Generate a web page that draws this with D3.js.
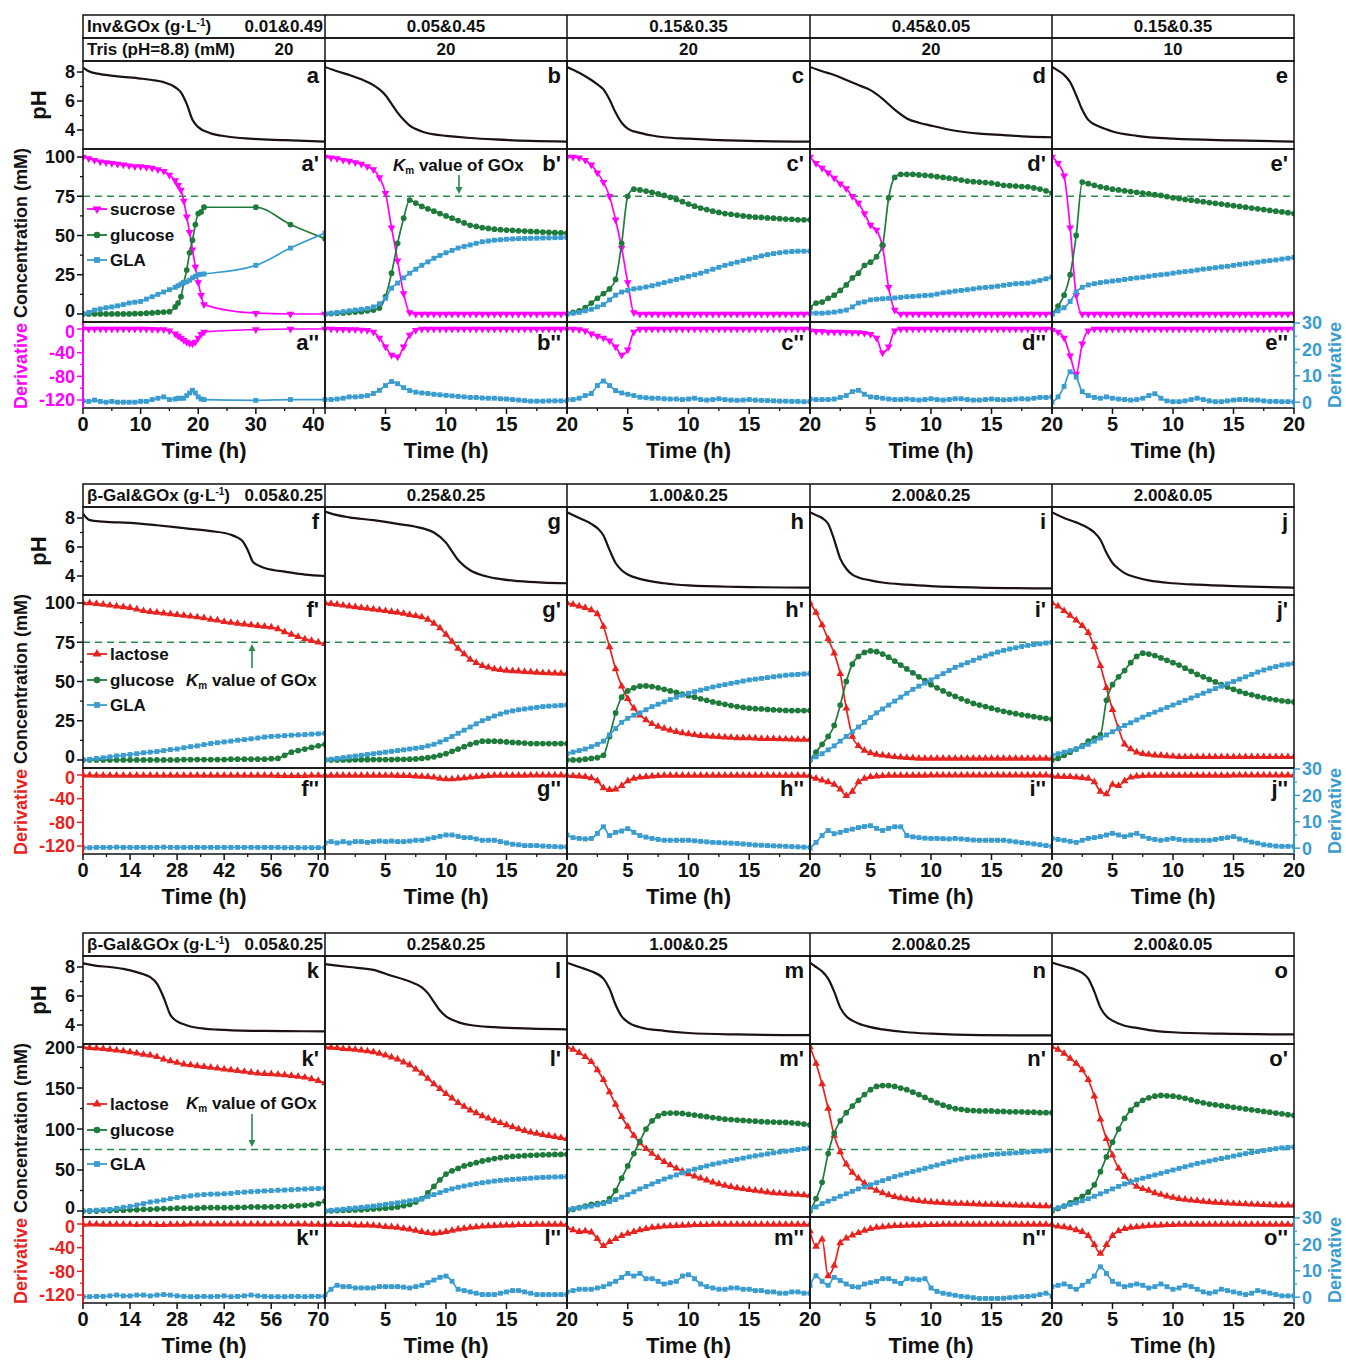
<!DOCTYPE html>
<html><head><meta charset="utf-8">
<script src="https://cdn.jsdelivr.net/npm/d3@7"></script>
<style>
body{margin:0;background:#fff;}
text{font-family:Arial,"Liberation Sans",Helvetica,sans-serif;}
</style></head><body>
<script>
// ================= DATA =================
// sample times (h)
const t20 = d3.range(0, 20.001, 0.5);
const t72 = d3.range(0, 72.001, 2);
const tA = [0,1,2,3,4,5,6,7,8,9,10,11,12,13,14,15,16,16.5,17,17.5,18,18.5,19,19.5,20,20.5,21,30,36,42];

// ---- Block 1 : Inv&GOx, sucrose ----
const headInv = ["0.01&0.49","0.05&0.45","0.15&0.35","0.45&0.05","0.15&0.35"];
const headTris = ["20","20","20","20","10"];

const phA = [[0,8.3],[1,8.05],[3,7.85],[6,7.7],[10,7.55],[12,7.45],[14,7.3],[16,6.95],[17,6.6],[18,5.8],[19,4.7],[20,4.2],[22,3.8],[25,3.55],[29,3.4],[35,3.3],[42,3.2]];
const sucA = [100,99,98,97,96.5,96,95.5,95,94.5,94, 94,93.5,93,92,91,88.5,85, 82,79,72,62,52,41,30,20,12,6, 0.5,0,0];
const gluA = [0,0,0,0,0,0,0,0,0,0.2, 0.3,0.5,0.7,1,1.2,1.5,4.5, 7,11,20,28,39,47,57,64,65,68, 68,57,48];
const glaA = [0,1,2.5,3.2,4,4.5,5.2,6,7,7.5, 8,9.5,11,12.5,14,15.5,17, 18,19,20,20.5,21.5,23,24,25,25.3,25.5, 31,42,51.5];
const dSucA = [0,0,0,0,0,0,0,0,0,0, 0,0,-0.5,-1,-1,-3,-8, -12,-15,-19,-22,-24,-25,-22,-15,-9,-5, -1,0,0];
const dGlaA = [0.5,0.3,0.8,0.3,0,0.3,0,0,0,0, 0.3,0.3,1,1.5,2,1,1.2, 1.5,1.5,1.5,2.5,3.5,4.5,3.5,2,1.2,1, 0.7,1,1];

const phB = [[0,8.35],[1,8.05],[2,7.8],[3,7.5],[4,7.1],[4.5,6.8],[5,6.4],[5.5,5.8],[6,5.2],[6.5,4.7],[7,4.3],[8,3.9],[9,3.7],[10,3.6],[12,3.45],[14,3.35],[17,3.25],[20,3.2]];
const sucB = [100,99.5,99,98,97.5,96.5,95.5,94,92,87, 77,55,34,13,1,0,0,0,0,0, 0,0,0,0,0,0,0,0,0,0, 0,0,0,0,0,0,0,0,0,0, 0];
const gluB = [0,0.3,0.5,0.7,1,1.2,1.5,2,2.5,3.8, 11,26,45,61,72.6,70.7,68.5,67,65.5,64, 62.5,61,59.5,58,56.5,55.8,55,54.5,54,53.7, 53.5,53.3,53,52.8,52.6,52.4,52.2,52,51.8,51.7, 51.5];
const glaB = [0,0.5,1,1.5,2,2.5,3,3.5,4.5,6.5, 10,16.5,19.7,23,26,28.5,31,33.2,35.5,37.3, 39,40.5,42,43,44,45,46,46.5,47,47.3, 47.6,47.8,48,48.1,48.2,48.3,48.4,48.5,48.6,48.7, 48.8];
const dSucB = [0,0,-0.5,-0.5,-1,-1,-1.5,-2,-5,-15, -30,-44,-47,-30,-10,-2,0,0,0,0, 0,0,0,0,0,0,0,0,0,0, 0,0,0,0,0,0,0,0,0,0, 0];
const dGlaB = [1,1,1.2,1.5,2,2,2.2,2.5,3.3,4.5, 6.3,7.8,7,5.5,4.4,3.8,3.5,3.3,3,2.8, 2.6,2.4,2.2,2,1.8,1.8,1.6,1.5,1.5,1.3, 1.2,1,0.8,0.6,0.4,0.4,0.4,0.5,0.5,0.5, 0.5];

const phC = [[0,8.35],[1,7.95],[2,7.45],[2.5,7.15],[3,6.8],[3.5,6.1],[4,5.2],[4.5,4.5],[5,4.1],[6,3.8],[7,3.62],[8,3.5],[10,3.4],[12,3.32],[15,3.25],[20,3.2]];
const sucC = [100,100,99.5,98,95,90,84,75,60,42, 20,1,0,0,0,0,0,0,0,0, 0,0,0,0,0,0,0,0,0,0, 0,0,0,0,0,0,0,0,0,0, 0];
const gluC = [0,1,2,4,7,10,13,16,22,45, 75,79.5,79,78.3,77.5,76.5,75.5,74.3,73,71.5, 70,68.7,67.5,66.5,65.5,64.7,64,63.5,63,62.5, 62,61.7,61.5,61.2,61,60.7,60.5,60.3,60,60, 60];
const glaC = [0,0.5,1,2,3,4.5,6,9,12,14, 15,16,16.5,17.2,18,19,20,21,22,23, 24,25,26,27.2,28.5,29.7,31,32,33,34, 35,36,37,37.8,38.5,39,39.5,39.8,40,40, 40];
const dSucC = [0,0,-1,-3,-8,-12,-15,-20,-30,-44, -35,-5,0,0,0,0,0,0,0,0, 0,0,0,0,0,0,0,0,0,0, 0,0,0,0,0,0,0,0,0,0, 0];
const dGlaC = [1,1,1.5,2.5,3.3,6.3,8,6.3,4.4,3.5, 3,2.5,1.9,1.7,1.5,1.5,1.3,1.2,1.2,1, 1.2,1.5,1,0.8,1,1.3,1,0.8,0.7,0.8, 1,0.8,0.7,0.6,0.5,0.4,0.4,0.3,0.3,0.2, 0.2];

const phD = [[0,8.35],[1,8.05],[2,7.8],[3,7.45],[4,7.1],[5,6.75],[6,6.15],[7,5.4],[8,4.8],[9,4.5],[10,4.3],[12,3.95],[14,3.75],[16,3.65],[18,3.55],[20,3.5]];
const sucD = [100,96,93,90,86.6,83,80,75,70.7,64, 56.7,53.5,42.7,17,2.5,0,0,0,0,0, 0,0,0,0,0,0,0,0,0,0, 0,0,0,0,0,0,0,0,0,0, 0];
const gluD = [4,7,7.6,10,12,15,18.5,23,26,31, 33,36.5,44,74,87,89,89,89,88.6,88.3, 88,87.5,87,86.5,86,85.3,84.7,84.3,84,83.7, 83.4,82.7,82,81.7,81.5,81.2,81,80.3,79.6,78.5, 77];
const glaD = [0.5,0.5,0.5,0.8,1.2,1.8,2.5,4.5,7,7.7, 9,9.4,9.7,10,10.2,10.6,11,11.2,11.5,11.8, 12,12.7,13.5,14,14.6,15,15.5,16,16.6,16.9, 17.2,17.7,18.3,18.8,19.3,19.5,19.7,20.5,21.4,22.4, 23.5];
const dSucD = [-3,-4,-4,-5,-5,-5,-5.5,-6,-6,-7, -9,-15,-40,-30,-3,0,0,0,0,0, 0,0,0,0,0,0,0,0,0,0, 0,0,0,0,0,0,0,0,0,0, 0];
const dGlaD = [1.2,1,1,1,1.2,1.8,2.5,4,4.5,3, 2,1.8,1.5,1.2,1,1,1.2,1,0.8,1, 1.3,1,0.8,1,1.3,1.3,1,0.8,0.8,1, 1.2,1,0.9,1,1.2,1.3,1.2,1.5,1.8,1.8, 2];

const phE = [[0,8.35],[0.5,8.1],[1,7.8],[1.5,7.3],[2,6.4],[2.5,5.4],[3,4.7],[4,4.2],[5,3.9],[7,3.6],[10,3.4],[15,3.28],[20,3.2]];
const sucE = [100,96,88,55,12,0,0,0,0,0, 0,0,0,0,0,0,0,0,0,0, 0,0,0,0,0,0,0,0,0,0, 0,0,0,0,0,0,0,0,0,0, 0];
const gluE = [0,5,12,25,50,84,83,82,81,80.3, 79.5,79,78.5,78,77.5,77,76.5,76,75.5,74.8, 74,73.5,73,72.5,72,71.5,71,70.5,70,69.5, 69,68.5,68,67.5,67,66.5,66,65.5,65,64.5, 64];
const glaE = [0,2,4,8,14,17,18.5,19.3,20,20.5, 21,21.4,22,22.6,23,23.4,24,24.6,25,25.4, 26,26.6,27,27.4,28,28.6,29,29.5,30,30.4, 31,31.6,32,32.5,33,33.6,34,34.4,35,35.5, 36];
const dSucE = [-2,-5,-15,-45,-76,-25,-3,0,0,0, 0,0,0,0,0,0,0,0,0,0, 0,0,0,0,0,0,0,0,0,0, 0,0,0,0,0,0,0,0,0,0, 0];
const dGlaE = [0,2,6,11.5,9.5,4,2.5,1.8,1.5,2, 1.5,1.2,1,0.8,1,1.5,2.5,3.2,1.5,0.5, 0.2,0.2,0.5,1,1.5,1,0.5,0.2,0.2,0.5, 0.8,1,1,0.8,0.8,0.5,0.3,0.3,0.2,0.2, 0.1];

// ---- Block 2 : beta-Gal&GOx, 100 mM lactose ----
const headGal = ["0.05&0.25","0.25&0.25","1.00&0.25","2.00&0.25","2.00&0.05"];

const phF = [[0,8.3],[2,7.85],[6,7.75],[15,7.65],[22,7.5],[30,7.3],[38,7.1],[44,6.85],[46,6.65],[47.5,6.4],[49,5.8],[50.5,5.0],[52,4.75],[54,4.55],[57,4.4],[60,4.3],[66,4.1],[72,4.0]];
const lacF = [100,100,99.5,99,98.5,98,97.5,97,96,95, 94.5,94,93.5,93,92.5,92,91.5,91,90.5,89.5, 89,88,87.5,87,86.5,86,85.5,85,84.5,83.5, 81.5,80,78.5,77,76,75,74];
const gluF = [0,0,0,0,0,0,0,0,0,0, 0,0,0,0,0,0.3,0.3,0.3,0.3,0.3, 0.3,0.3,0.5,0.5,0.5,0.5,0.5,0.5,0.8,1, 3,5,6,7,8,9,10];
const glaF = [0,0.4,1,1.4,2,2.6,3,3.5,4,4.6, 5,5.4,6,6.6,7,7.8,8.5,9,9.8,10.5, 11,11.5,12,12.6,13,13.5,14,14.6,15,15.2, 15.5,15.8,16,16.2,16.5,16.7,17];
const dLacF = [-0.5,-0.5,-0.8,-0.8,-1,-1,-1,-1,-1,-1, -1,-1,-1,-1,-1,-1,-1,-1,-1,-1, -1,-1,-1,-1,-1,-1,-1,-1,-1,-1.2, -1.5,-1.5,-1.5,-1.2,-1,-1,-1];
const dGlaF = [0.2,0.2,0.3,0.3,0.3,0.4,0.3,0.3,0.3,0.3, 0.3,0.3,0.4,0.3,0.3,0.3,0.3,0.3,0.3,0.3, 0.3,0.3,0.3,0.3,0.3,0.3,0.3,0.3,0.3,0.3, 0.2,0.2,0.2,0.2,0.2,0.2,0.2];

const phG = [[0,8.45],[1,8.2],[2,8.05],[4,7.85],[6,7.6],[8,7.3],[9,7.0],[10,6.3],[10.5,5.7],[11,5.1],[11.5,4.7],[12,4.4],[13,4.05],[14,3.85],[16,3.65],[18,3.55],[20,3.5]];
const lacG = [100,99.5,99,98.5,98,97.5,97,96.5,96,95.5, 95,94.5,94,93.3,92.5,91.8,91,89.5,87,84, 80,75.5,71,67.5,64,62,60,59,58,57.5, 57,56.7,56.5,56.2,56,55.8,55.5,55.4,55.3,55.1, 55];
const gluG = [0,0,0,0,0,0.2,0.2,0.2,0.3,0.3, 0.3,0.3,0.4,0.4,0.5,0.7,1,1.5,2,3, 4,5.5,7,8.5,10,11,12,12,12,11.8, 11.5,11.2,11,10.8,10.5,10.5,10.5,10.5,10.5,10.5, 10.5];
const glaG = [0,0.5,1,1.5,2,2.5,3,3.5,4,4.5, 5,5.5,6,6.5,7,7.5,8,9,10,11.5, 13,15,17,19,21,23,25,26.5,28,29.3, 30.5,31.3,32,32.5,33,33.5,34,34.3,34.5,34.8, 35];
const dLacG = [-1,-1,-1,-1,-1,-1,-1,-1,-1,-1, -1,-1,-1.2,-1.3,-1.5,-2,-2.5,-3,-4,-6, -7,-7,-6,-5,-4,-3,-2,-1.5,-1,-1, -1,-0.8,-0.8,-0.8,-0.6,-0.6,-0.5,-0.5,-0.5,-0.5, -0.5];
const dGlaG = [2,2.5,2,2.5,2,2.5,2.5,2.2,2.5,2.7, 2.5,2.7,2.5,2.5,2.7,3,3,3.5,4,4.5, 5,5,4.5,4,4,3.5,3,3,3,2.5, 2,1.5,1.3,1,1,1,0.8,0.7,0.6,0.5, 0.5];

const phH = [[0,8.4],[1,8.0],[2,7.6],[2.5,7.3],[3,6.8],[3.5,5.8],[4,4.9],[4.5,4.4],[5,4.1],[6,3.8],[8,3.5],[10,3.35],[14,3.25],[20,3.2]];
const lacH = [100,99,98,97,95.5,93,85,72,58,47, 39,33,28.5,25.5,23,21.3,20,19,18,17.2, 16.5,16,15.5,15.2,15,14.8,14.5,14.3,14,14, 14,13.8,13.5,13.5,13.5,13.4,13.3,13.2,13,13, 13];
const gluH = [0,0,0,0.5,1,1.5,3,15,30,40, 44,46,47,47.2,46.8,46,45,44,43,42, 41,40,39,38,37,36.2,35.5,34.7,34,33.5, 33,32.7,32.5,32.2,32,31.8,31.6,31.5,31.5,31.5, 31.5];
const glaH = [4,5,6,7,8.5,10,12,16,20,24, 26.5,28.5,30,32,34,35.5,37,38.5,40,41.3, 42.5,43.5,44.5,45.5,46.5,47.3,48,48.8,49.5,50.3, 51,51.5,52,52.5,53,53.5,54,54.3,54.5,54.8, 55];
const dLacH = [-1,-1.5,-2,-3,-5,-10,-22,-25,-24,-18, -10,-6,-4,-3,-2,-1.5,-1,-1,-1,-1, -1,-1,-1,-1,-1,-1,-1,-1,-1,-1, -1,-1,-1,-1,-1,-1,-1,-1,-1,-1, -1];
const dGlaH = [5,4,3.7,3.5,3.7,5.6,8.1,4.8,6,6.5, 7.4,6,4.8,4.2,3.7,3.3,3,3,3,3, 3,2.8,2.6,2.4,2.2,2.1,2,1.9,1.8,1.6, 1.4,1.2,1.1,1,0.9,0.8,0.7,0.6,0.5,0.4, 0.3];

const phI = [[0,8.4],[0.5,8.2],[1,8.0],[1.5,7.6],[2,6.5],[2.5,5.2],[3,4.5],[3.5,4.1],[4,3.9],[5,3.7],[6,3.55],[8,3.4],[10,3.3],[14,3.2],[20,3.15]];
const lacI = [100,94,86,77,68,55,33,15,9,6, 4.5,3.5,3,2.5,2,1.8,1.5,1.3,1,1, 1,1,1,1,1,1,1,1,1,1, 1,1,1,1,1,1,1,1,1,1, 1];
const gluI = [0,5,10,15,22,35,50,61,66,68.5, 69.5,69,67.5,65.5,63,60.5,58,55.5,53,50.5, 48,46,44,42,40.5,39,37.5,36,35,34, 33,32,31,30.2,29.5,28.8,28.2,27.6,27,26.5, 26];
const glaI = [0,2,4,6.5,9,12,15,18,21,24, 27,30,32.5,35,37.5,40,42.5,45,47,49, 51,53,55,57,59,60.5,62,63.5,65,66.3, 67.5,68.7,69.8,70.7,71.5,72.3,73,73.5,74,74.5, 75];
const dLacI = [-3,-6,-9,-12,-16,-24,-35,-28,-12,-6, -3,-2,-1.5,-1,-1,-1,-0.8,-0.8,-0.8,-0.8, -0.5,-0.5,-0.5,-0.5,-0.5,-0.5,-0.5,-0.5,-0.5,-0.5, -0.5,-0.5,-0.5,-0.5,-0.5,-0.5,-0.5,-0.5,-0.5,-0.5, -0.5];
const dGlaI = [0,2.2,4.8,6.7,5.5,6,6.7,7.2,7.8,8.2, 8.5,7.5,6.7,7.5,8.1,8.1,4.8,4.3,4,3.8, 3.7,3.7,3.6,3.5,3.7,3.5,3.3,3.1,3,3, 3,3,3,2.7,2.4,2.1,1.9,1.6,1.3,1, 0.7];

const phJ = [[0,8.4],[1,8.0],[2,7.7],[3,7.3],[3.5,7.0],[4,6.5],[4.5,5.6],[5,4.9],[5.5,4.5],[6,4.2],[7,3.9],[8,3.7],[10,3.5],[12,3.4],[15,3.3],[20,3.2]];
const lacJ = [100,98,95,92,89,85.5,81,72,60,46, 32,20,10,7,5,4,3.5,3,2.8,2.5, 2.3,2,2,2,2,2,2,2,2,2, 2,2,2,2,2,2,2,2,2,2, 2];
const gluJ = [0,1,3,5,7,9,12,14,16,38, 48,53,57,62,66,68,67.5,66.5,65,63.5, 62,60.5,58.5,56.5,54.5,53,51.3,49.7,48,46.5, 45,43.7,42.5,41.5,40.5,39.7,39,38.3,37.7,37.3, 37];
const glaJ = [3,4,5,6,7,8.5,10,12,14,16, 18,20,22,23.7,25.5,27.3,29,30.5,32,33.5, 35,36.5,38,39.5,41,42.5,44,45.5,47,48.5, 50,51.5,53,54.5,56,57.3,58.5,59.5,60.5,61, 61.5];
const dLacJ = [-2,-2.5,-3,-3,-4,-4.5,-6,-12,-28,-32, -16,-18,-10,-4,-2,-1.5,-1,-1,-1,-1, -1,-0.8,-0.8,-0.8,-0.8,-0.8,-0.8,-0.8,-0.8,-0.8, -0.6,-0.6,-0.6,-0.6,-0.6,-0.6,-0.6,-0.6,-0.6,-0.6, -0.6];
const dGlaJ = [3.7,3.3,3,2.6,2.2,3,3.7,4,4.4,5, 5.6,5,4.4,5,5.6,4.5,3.7,3.3,3,3.3, 3.7,3.3,3,3,3,3,3,3.3,3.7,4, 4.4,3.5,3,2.3,1.9,1.3,1.1,0.8,0.7,0.7, 0.7];

// ---- Block 3 : beta-Gal&GOx, 200 mM lactose ----
const phK = [[0,8.25],[4,8.08],[8,8.0],[12,7.87],[16,7.65],[18,7.5],[20,7.3],[22,6.85],[24,5.9],[26,4.7],[28,4.25],[30,4.05],[32,3.9],[36,3.75],[40,3.68],[50,3.6],[60,3.58],[72,3.56]];
const lacK = [200,199,198.5,198,197,196,195,194,192.5,191, 190,188,185,183,181,179,178,177,176,175, 174,173,172,171,170,169,168,167.5,167,166.5, 166,165,164,163,161,159,156];
const gluK = [0,0,0,0.5,0.5,1,1,1.5,1.5,2, 2,2.5,3,3,3.5,3.5,3.5,3.5,4,4, 4,4,4,4.5,4.5,5,5,5,5,5.5, 5.5,6,6.5,7,7.5,9,12];
const glaK = [0,0.5,1,1.5,2,3.3,4.5,5.5,7.3,9, 11,12,13.4,15,16.5,17.5,18.5,19.5,20,20.5, 20.7,21,21.5,22.5,23,23.6,24,24.5,24.8,25.3, 25.6,26,26.5,26.8,27.2,27.4,27.6];
const dLacK = [-1,-0.5,-0.5,-1,-1,-1,-1,-1,-1.5,-1, -1,-1.5,-1.5,-1,-1,-1,-0.5,-0.5,-0.5,-0.5, -0.5,-0.5,-0.5,-0.5,-0.5,-0.5,-0.5,-0.5,-0.5,-0.5, -0.5,-0.5,-0.5,-0.5,-1,-1,-1.5];
const dGlaK = [0.2,0.2,0.3,0.3,0.5,0.8,0.5,0.5,0.8,0.8, 0.5,0.8,1,0.8,0.5,0.3,0.2,0.2,0.3,0.2, 0.3,0.5,0.2,0.3,0.5,0.8,0.5,0.3,0.2,0.2, 0.2,0.3,0.3,0.2,0.3,0.3,0.3];

const phL = [[0,8.2],[2,8.0],[4,7.8],[5.5,7.4],[7,7.0],[8,6.6],[8.5,6.2],[9,5.6],[9.5,5.0],[10,4.6],[11,4.2],[12,4.0],[14,3.85],[17,3.75],[20,3.7]];
const lacL = [200,199.5,199,198,197.5,197,196,195,194,192, 190,187.5,185,181.5,178,173,168,161.5,155,149, 143,137.5,132,127.5,123,119.5,116,113,110,107.5, 105,102.5,100,98,96,94.5,93,91.7,90.5,89.2, 88];
const gluL = [0,0.3,0.5,0.8,1,1.3,1.5,2,2.5,3, 3.5,4,5,6.5,8,11,15,22,30,38, 45,49,52,55,57,59,61,62.5,64,65, 66,66.5,67,67.5,68,68.3,68.5,68.7,69,69, 69];
const glaL = [0,0.8,1.5,2.2,3,3.7,4.5,5.2,6,7, 8,9,10,11.2,12.5,13.7,15,17.5,20,22.5, 25,27,29,30.5,32,33.3,34.5,35.5,36.5,37.3, 38,38.5,39,39.5,40,40.5,41,41.3,41.5,41.7, 42];
const dLacL = [-1,-1,-1.5,-1.5,-1.5,-2,-2,-2,-2.5,-3.5, -4.5,-5,-6,-7.5,-9,-11,-13,-15,-16,-15, -13,-11,-9,-7.5,-6,-5,-4,-3.5,-3,-2.5, -2,-2,-1.5,-1.5,-1.5,-1,-1,-1,-1,-1, -1];
const dGlaL = [1,3,4.5,4,4,3.5,3.5,3.5,3.5,4, 4,4,4,3.8,3.5,4,4.5,5.5,6.5,7.5, 8,6,3,2.5,2,1.5,1,1,1,1.5, 2,2.5,2.5,2,1.5,1,1,1,1,1, 1];

const phM = [[0,8.3],[1,8.0],[2,7.7],[3,7.2],[3.5,6.5],[4,5.4],[4.5,4.6],[5,4.2],[6,3.85],[8,3.6],[10,3.45],[14,3.35],[20,3.3]];
const lacM = [200,197,193,188,182,172,160,145,130,115, 103,92,83,76,70,65,60,56,52,48.5, 45,42.5,40,37.5,35,33,31,29.5,28,27, 26,25,24,23,22,21.5,21,20.5,20,19.5, 19];
const gluM = [0,2,4,6,8,9,10,15,25,40, 55,70,85,100,110,116,119,119.5,119.5,119, 118,117,116,115,114,113,112,111.5,111,110.5, 110,109.5,109,108.7,108.5,108.2,108,107.5,107,106, 105];
const glaM = [2,3,4,5,6,7.5,9,11.5,14,17, 20,23.5,27,30,33,36,39,41.5,44,46.5, 49,51,53,55,57,58.5,60,61.5,63,64.5, 66,67.3,68.5,69.7,71,72,73,74,75,76, 77];
const dLacM = [-6,-10,-13,-12,-14,-25,-37,-30,-25,-20, -16,-13,-10,-8,-6,-5,-4,-3.5,-3,-2.5, -2,-1.5,-1.5,-1.5,-1,-1,-1,-1,-1,-1, -1,-1,-1,-1,-1,-1,-1,-1,-1,-1, -1];
const dGlaM = [2,2.5,3,3,3,3.5,4,5,6,7.5, 9,8,9,7,7,6,5,5.5,6,8, 8.5,7,5,4,3.5,3,3,3.5,3.5,3, 3,2.5,2.5,2,2,1.5,1.5,2,2,1.5, 1.5];

const phN = [[0,8.3],[0.5,8.0],[1,7.7],[1.5,7.2],[2,6.3],[2.5,5.2],[3,4.6],[3.5,4.3],[4,4.1],[5,3.85],[6,3.7],[8,3.5],[10,3.4],[14,3.3],[20,3.28]];
const lacN = [200,180,155,125,92,72,57,47,40,34, 29,25,22,19.5,17.5,16,14.5,13.5,12.5,11.5, 11,10.5,10,9.5,9.2,9,8.7,8.5,8.2,8, 7.8,7.6,7.4,7.2,7,6.8,6.6,6.4,6.2,6, 6];
const gluN = [0,15,35,70,95,110,120,128,135,142, 148,152,153,153,152,150,148,145,142,138.5, 135,132,129,127,125,124,123,122.5,122,122, 122,121.5,121.5,121,121,121,120.5,120.5,120,120, 120];
const glaN = [2,5,9,12,15,18,21,24,27,29.5, 32,34.5,37,39.5,42,44,46,48,50,52, 54,56,58,60,62,63.5,65,66,67,68, 69,69.5,70,70.5,71,71.5,72,72.5,73,73.5, 74];
const dLacN = [-12,-38,-26,-88,-70,-32,-24,-19,-15,-11, -8,-6,-5,-4,-3,-3,-2.5,-2,-2,-1.5, -1.5,-1.5,-1,-1,-1,-1,-1,-1,-1,-1, -1,-1,-1,-1,-1,-1,-1,-1,-1,-1, -1];
const dGlaN = [4.4,8.1,6,4.5,7.5,6.3,5,4,3.8,5, 5.5,6,7,7,6,5.2,7,6.8,6.6,7, 3.5,2.2,1.5,1.1,0.7,0.3,0.1,-0.2,-0.5,-0.5, -0.5,-0.5,-0.4,-0.2,0,0.2,0.3,0.5,1,1.5, 0.4];

const phO = [[0,8.3],[1,8.05],[2,7.8],[2.5,7.6],[3,7.2],[3.5,6.3],[4,5.2],[4.5,4.6],[5,4.3],[6,3.95],[7,3.8],[8,3.65],[10,3.5],[14,3.4],[20,3.35]];
const lacO = [200,197,192,186,180,172,160,140,112,88, 68,52,42,35,30,27,25,22,20,18, 16.5,15,14,13,12.5,11.5,11,10.5,10,9.5, 9,8.7,8.4,8.1,7.8,7.5,7.3,7.1,7,7, 7];
const gluO = [0,3,6,10,14,18,23,32,48,66, 84,100,113,123,130,135,138,140,141,140.5, 140,139,137.5,135.5,133.5,132,130.5,129.5,128.5,127.5, 126.5,125.5,124.5,123.5,122.5,121.5,120.5,119.5,118.5,117.5, 116.5];
const glaO = [2,4,6,8,10,12.5,15,18,21,24, 27,30,33,35.5,38,40,42,44,46,48, 50,52,54,56,58,59.5,61,62.5,64,65.5, 67,68.5,70,71.3,72.5,73.7,75,76,77,77.5, 78];
const dLacO = [-2,-4,-5,-7,-10,-13,-20,-35,-50,-35, -20,-12,-8,-6,-5,-4,-3,-2.5,-2,-1.5, -1.5,-1,-1,-1,-1,-1,-1,-1,-1,-1, -1,-1,-1,-1,-1,-1,-1,-1,-1,-1, -1];
const dGlaO = [4,4.5,5,4,3,4.5,6,8,11.5,9, 6,5,4,4.5,5,4.5,3.5,4,5,4, 3,3.5,4.5,4,3,2,1.5,2,3,2.5, 2,1.5,1,1.5,2.5,2,1.5,1,0.5,0.5, 0.5];

// tick values
const phTicks = [4,6,8], phMinor = [5,7];
const concTicks100 = [0,25,50,75,100], concMinor100 = [12.5,37.5,62.5,87.5];
const concTicks200 = [0,50,100,150,200], concMinor200 = [25,75,125,175];
const derTicksL = [0,-40,-80,-120], derMinorL = [-20,-60,-100];
const derTicksR = [0,10,20,30], derMinorR = [5,15,25];
const KM = 75;

// ================= STYLE / LAYOUT =================
const COL = {suc:'#ff00ff', lac:'#e8231f', glu:'#1e7b3b', gla:'#3a9ccf', ph:'#1c1212', km:'#2b8a4c'};
const SYM = {
  suc:{type:d3.symbolTriangle, rot:180, size:26},
  lac:{type:d3.symbolTriangle, rot:0, size:26},
  glu:{type:d3.symbolCircle, rot:0, size:26},
  gla:{type:d3.symbolSquare, rot:0, size:24}
};
const COL_X = [83, 325, 567, 810, 1052, 1294];
const PH_H = 88, CONC_H = 173, DER_H = 86, HEAD_H = 23;
const TICK_FONT = 18;

function mk(t, xMax, ph, conc, der){ return {t, xMax, ph, conc, der}; }

const blocks = [
  { top:61, heads:[{label:['Inv&GOx (g·L','-1',')'], vals:headInv, firstX:323, firstAnchor:'end'},
                   {label:['Tris (pH=8.8) (mM)'], vals:headTris, firstX:284, firstAnchor:'middle'}],
    letters:['a','b','c','d','e'], derColor:COL.suc,
    concDom:[-5.1,105.1], concTicks:concTicks100, concMinor:concMinor100,
    legend:{keys:['suc','glu','gla'], names:['sucrose','glucose','GLA'], dy:[60,86,111]},
    km:{col:1, tx:393, ty:22, ax:459, a0:26, a1:45},
    panels:[
      mk(tA,42,phA,[[sucA,'suc'],[gluA,'glu'],[glaA,'gla']],[[dSucA,'suc'],[dGlaA,'gla']]),
      mk(t20,20,phB,[[sucB,'suc'],[gluB,'glu'],[glaB,'gla']],[[dSucB,'suc'],[dGlaB,'gla']]),
      mk(t20,20,phC,[[sucC,'suc'],[gluC,'glu'],[glaC,'gla']],[[dSucC,'suc'],[dGlaC,'gla']]),
      mk(t20,20,phD,[[sucD,'suc'],[gluD,'glu'],[glaD,'gla']],[[dSucD,'suc'],[dGlaD,'gla']]),
      mk(t20,20,phE,[[sucE,'suc'],[gluE,'glu'],[glaE,'gla']],[[dSucE,'suc'],[dGlaE,'gla']])
    ]},
  { top:507, heads:[{label:['β-Gal&GOx (g·L','-1',')'], vals:headGal, firstX:323, firstAnchor:'end'}],
    letters:['f','g','h','i','j'], derColor:COL.lac,
    concDom:[-5.1,105.1], concTicks:concTicks100, concMinor:concMinor100,
    legend:{keys:['lac','glu','gla'], names:['lactose','glucose','GLA'], dy:[59,85,110]},
    km:{col:0, tx:186, ty:91, ax:252, a0:73, a1:49},
    panels:[
      mk(t72,72,phF,[[lacF,'lac'],[gluF,'glu'],[glaF,'gla']],[[dLacF,'lac'],[dGlaF,'gla']]),
      mk(t20,20,phG,[[lacG,'lac'],[gluG,'glu'],[glaG,'gla']],[[dLacG,'lac'],[dGlaG,'gla']]),
      mk(t20,20,phH,[[lacH,'lac'],[gluH,'glu'],[glaH,'gla']],[[dLacH,'lac'],[dGlaH,'gla']]),
      mk(t20,20,phI,[[lacI,'lac'],[gluI,'glu'],[glaI,'gla']],[[dLacI,'lac'],[dGlaI,'gla']]),
      mk(t20,20,phJ,[[lacJ,'lac'],[gluJ,'glu'],[glaJ,'gla']],[[dLacJ,'lac'],[dGlaJ,'gla']])
    ]},
  { top:956, heads:[{label:['β-Gal&GOx (g·L','-1',')'], vals:headGal, firstX:323, firstAnchor:'end'}],
    letters:['k','l','m','n','o'], derColor:COL.lac,
    concDom:[-7.3,203.7], concTicks:concTicks200, concMinor:concMinor200,
    legend:{keys:['lac','glu','gla'], names:['lactose','glucose','GLA'], dy:[60,86,120]},
    km:{col:0, tx:186, ty:65, ax:252, a0:70, a1:103},
    panels:[
      mk(t72,72,phK,[[lacK,'lac'],[gluK,'glu'],[glaK,'gla']],[[dLacK,'lac'],[dGlaK,'gla']]),
      mk(t20,20,phL,[[lacL,'lac'],[gluL,'glu'],[glaL,'gla']],[[dLacL,'lac'],[dGlaL,'gla']]),
      mk(t20,20,phM,[[lacM,'lac'],[gluM,'glu'],[glaM,'gla']],[[dLacM,'lac'],[dGlaM,'gla']]),
      mk(t20,20,phN,[[lacN,'lac'],[gluN,'glu'],[glaN,'gla']],[[dLacN,'lac'],[dGlaN,'gla']]),
      mk(t20,20,phO,[[lacO,'lac'],[gluO,'glu'],[glaO,'gla']],[[dLacO,'lac'],[dGlaO,'gla']])
    ]}
];

// ================= DRAW =================
const svg = d3.select('body').append('svg').attr('width',1346).attr('height',1367);
svg.append('rect').attr('width',1346).attr('height',1367).attr('fill','#fff');
const defs = svg.append('defs');
let clipId = 0;
function clip(x, y, w, h){
  const id = 'c' + (clipId++);
  defs.append('clipPath').attr('id', id).append('rect').attr('x',x).attr('y',y).attr('width',w).attr('height',h);
  return `url(#${id})`;
}
function series(g, times, vals, x, y, key){
  const pts = times.map((t,i)=>[t, vals[i]]).filter(d=>d[1]!==undefined);
  g.append('path').datum(pts)
    .attr('d', d3.line().x(d=>x(d[0])).y(d=>y(d[1])).curve(d3.curveMonotoneX))
    .attr('fill','none').attr('stroke',COL[key]).attr('stroke-width',1.7);
  const s = SYM[key];
  g.selectAll(null).data(pts).join('path')
    .attr('d', d3.symbol(s.type, s.size)())
    .attr('transform', d=>`translate(${x(d[0])},${y(d[1])}) rotate(${s.rot})`)
    .attr('fill', COL[key]);
}
// shift: optional map value -> pixel offset for a label (to keep adjacent labels apart)
function yAxis(g, scale, xPos, major, minor, dir, color, shift){
  major.forEach(v=>{
    const yy = scale(v);
    const off = (shift && shift[v]) || 0;
    g.append('line').attr('x1',xPos).attr('x2',xPos+dir*6).attr('y1',yy).attr('y2',yy).attr('stroke',color).attr('stroke-width',1.5);
    g.append('text').attr('x',xPos+dir*8).attr('y',yy+off).attr('dy','0.36em')
      .attr('text-anchor',dir<0?'end':'start').attr('font-size',TICK_FONT).attr('font-weight','bold').attr('fill',color).text(v);
  });
  minor.forEach(v=>{
    const yy = scale(v);
    g.append('line').attr('x1',xPos).attr('x2',xPos+dir*3).attr('y1',yy).attr('y2',yy).attr('stroke',color).attr('stroke-width',1.3);
  });
}

blocks.forEach((B, bi)=>{
  const phTop = B.top, concTop = phTop+PH_H, derTop = concTop+CONC_H, derBot = derTop+DER_H;
  const yPH = d3.scaleLinear().domain([2.69, 8.76]).range([concTop, phTop]);
  const yC = d3.scaleLinear().domain(B.concDom).range([derTop, concTop]);
  const yDL = d3.scaleLinear().domain([-133.5, 11.8]).range([derBot, derTop]);
  const yDR = d3.scaleLinear().domain([-2.2, 30.37]).range([derBot, derTop]);
  const G = svg.append('g');

  // header rows
  const headTop = phTop - HEAD_H*B.heads.length;
  B.heads.forEach((h, r)=>{
    const ry = headTop + r*HEAD_H;
    G.append('rect').attr('x',COL_X[0]).attr('y',ry).attr('width',COL_X[5]-COL_X[0]).attr('height',HEAD_H)
      .attr('fill','none').attr('stroke','#111').attr('stroke-width',1.5);
    const lab = G.append('text').attr('x',COL_X[0]+4).attr('y',ry+17).attr('font-size',17).attr('font-weight','bold').attr('fill','#111');
    lab.append('tspan').text(h.label[0]);
    if(h.label.length>1){
      lab.append('tspan').attr('dy',-6).attr('font-size',10).text(h.label[1]);
      lab.append('tspan').attr('dy',6).text(h.label[2]);
    }
    h.vals.forEach((v,c)=>{
      const cx = c===0 ? h.firstX : (COL_X[c]+COL_X[c+1])/2;
      G.append('text').attr('x',cx).attr('y',ry+17).attr('text-anchor',c===0?h.firstAnchor:'middle')
        .attr('font-size',17).attr('font-weight','bold').attr('fill','#111').text(v);
    });
  });
  for(let c=1;c<5;c++){
    G.append('line').attr('x1',COL_X[c]).attr('x2',COL_X[c]).attr('y1',headTop).attr('y2',phTop).attr('stroke','#111').attr('stroke-width',1.5);
  }

  // Km dashed line
  G.append('line').attr('x1',COL_X[0]).attr('x2',COL_X[5]).attr('y1',yC(KM)).attr('y2',yC(KM))
    .attr('stroke',COL.km).attr('stroke-width',1.5).attr('stroke-dasharray','7,5');

  B.panels.forEach((P, c)=>{
    const x0 = COL_X[c], x1 = COL_X[c+1];
    const x = d3.scaleLinear().domain([0, P.xMax]).range([x0, x1]);
    // pH
    const gp = G.append('g').attr('clip-path', clip(x0, phTop, x1-x0, PH_H));
    gp.append('path').datum(P.ph).attr('d', d3.line().x(d=>x(d[0])).y(d=>yPH(d[1])).curve(d3.curveMonotoneX))
      .attr('fill','none').attr('stroke',COL.ph).attr('stroke-width',2.2);
    // concentrations
    const gc = G.append('g').attr('clip-path', clip(x0, concTop, x1-x0, CONC_H));
    P.conc.forEach(([vals,key])=> series(gc, P.t, vals, x, yC, key));
    // derivatives
    const gd = G.append('g').attr('clip-path', clip(x0, derTop, x1-x0, DER_H));
    P.der.forEach(([vals,key])=> series(gd, P.t, vals, x, key==='gla'?yDR:yDL, key));
    // borders
    [[phTop,PH_H],[concTop,CONC_H],[derTop,DER_H]].forEach(([ty,hh])=>{
      G.append('rect').attr('x',x0).attr('y',ty).attr('width',x1-x0).attr('height',hh)
        .attr('fill','none').attr('stroke','#111').attr('stroke-width',1.5);
    });
    // panel letters
    const L = B.letters[c];
    [[L, phTop+22],[L+"'", concTop+22],[L+"''", derTop+28]].forEach(([s,yy])=>{
      G.append('text').attr('x',x1-6).attr('y',yy).attr('text-anchor','end').attr('font-size',22).attr('font-weight','bold').attr('fill','#111').text(s);
    });
    // x axis
    let major, minor, labels;
    if(P.xMax===42){ major=[0,10,20,30,40]; minor=[5,15,25,35]; labels=major; }
    else if(P.xMax===72){ major=[0,14,28,42,56,70]; minor=[7,21,35,49,63]; labels=major; }
    else { major=[0,5,10,15,20]; minor=[2.5,7.5,12.5,17.5]; labels=[5,10,15,20]; }
    major.forEach(v=> G.append('line').attr('x1',x(v)).attr('x2',x(v)).attr('y1',derBot).attr('y2',derBot+6).attr('stroke','#111').attr('stroke-width',1.5));
    minor.forEach(v=> G.append('line').attr('x1',x(v)).attr('x2',x(v)).attr('y1',derBot).attr('y2',derBot+3).attr('stroke','#111').attr('stroke-width',1.3));
    labels.forEach(v=> G.append('text').attr('x',x(v)).attr('y',derBot+23).attr('text-anchor','middle')
      .attr('font-size',20).attr('font-weight','bold').attr('fill','#111').text(v));
    G.append('text').attr('x',(x0+x1)/2).attr('y',derBot+50).attr('text-anchor','middle')
      .attr('font-size',22).attr('font-weight','bold').attr('fill','#111').text('Time (h)');
  });

  // left axes
  yAxis(G, yPH, COL_X[0], phTicks, phMinor, -1, '#111');
  yAxis(G, yC, COL_X[0], B.concTicks, B.concMinor, -1, '#111', {0:-3});
  yAxis(G, yDL, COL_X[0], derTicksL, derMinorL, -1, B.derColor, {0:3});
  G.append('line').attr('x1',COL_X[0]).attr('x2',COL_X[0]).attr('y1',derTop+1).attr('y2',derBot).attr('stroke',B.derColor).attr('stroke-width',1.8);
  // right axis
  yAxis(G, yDR, COL_X[5], derTicksR, derMinorR, 1, COL.gla);
  G.append('line').attr('x1',COL_X[5]).attr('x2',COL_X[5]).attr('y1',derTop+1).attr('y2',derBot).attr('stroke',COL.gla).attr('stroke-width',1.8);

  // axis titles
  G.append('text').attr('transform',`translate(46,${phTop+PH_H/2}) rotate(-90)`).attr('text-anchor','middle')
    .attr('font-size',22).attr('font-weight','bold').attr('fill','#111').text('pH');
  const yt = G.append('text').attr('transform',`translate(27,${(concTop+derBot)/2}) rotate(-90)`).attr('text-anchor','middle')
    .attr('font-size',18).attr('font-weight','bold');
  yt.append('tspan').attr('fill',B.derColor).text('Derivative');
  yt.append('tspan').attr('fill','#111').text(' Concentration (mM)');
  G.append('text').attr('transform',`translate(1341,${derTop+DER_H/2}) rotate(-90)`).attr('text-anchor','middle')
    .attr('font-size',18).attr('font-weight','bold').attr('fill',COL.gla).text('Derivative');

  // legend
  B.legend.keys.forEach((k,i)=>{
    const yy = concTop + B.legend.dy[i];
    G.append('line').attr('x1',87).attr('x2',107).attr('y1',yy).attr('y2',yy).attr('stroke',COL[k]).attr('stroke-width',1.8);
    G.append('path').attr('d', d3.symbol(SYM[k].type, 34)()).attr('transform',`translate(97,${yy}) rotate(${SYM[k].rot})`).attr('fill',COL[k]);
    G.append('text').attr('x',110).attr('y',yy).attr('dy','0.35em').attr('font-size',17).attr('font-weight','bold').attr('fill','#111').text(B.legend.names[i]);
  });

  // Km annotation
  const km = B.km;
  const kt = G.append('text').attr('x',km.tx).attr('y',concTop+km.ty).attr('font-size',17).attr('font-weight','bold').attr('fill','#111');
  kt.append('tspan').attr('font-style','italic').text('K');
  kt.append('tspan').attr('font-size',10).attr('dy',3).text('m');
  kt.append('tspan').attr('dy',-3).text(' value of GOx');
  const ya = concTop+km.a0, yb = concTop+km.a1, dirA = yb>ya?1:-1;
  G.append('line').attr('x1',km.ax).attr('x2',km.ax).attr('y1',ya).attr('y2',yb-dirA*5).attr('stroke',COL.km).attr('stroke-width',1.6);
  G.append('path').attr('d',`M${km.ax-3.5},${yb-dirA*7} L${km.ax+3.5},${yb-dirA*7} L${km.ax},${yb} Z`).attr('fill',COL.km);
});
</script>
</body></html>
